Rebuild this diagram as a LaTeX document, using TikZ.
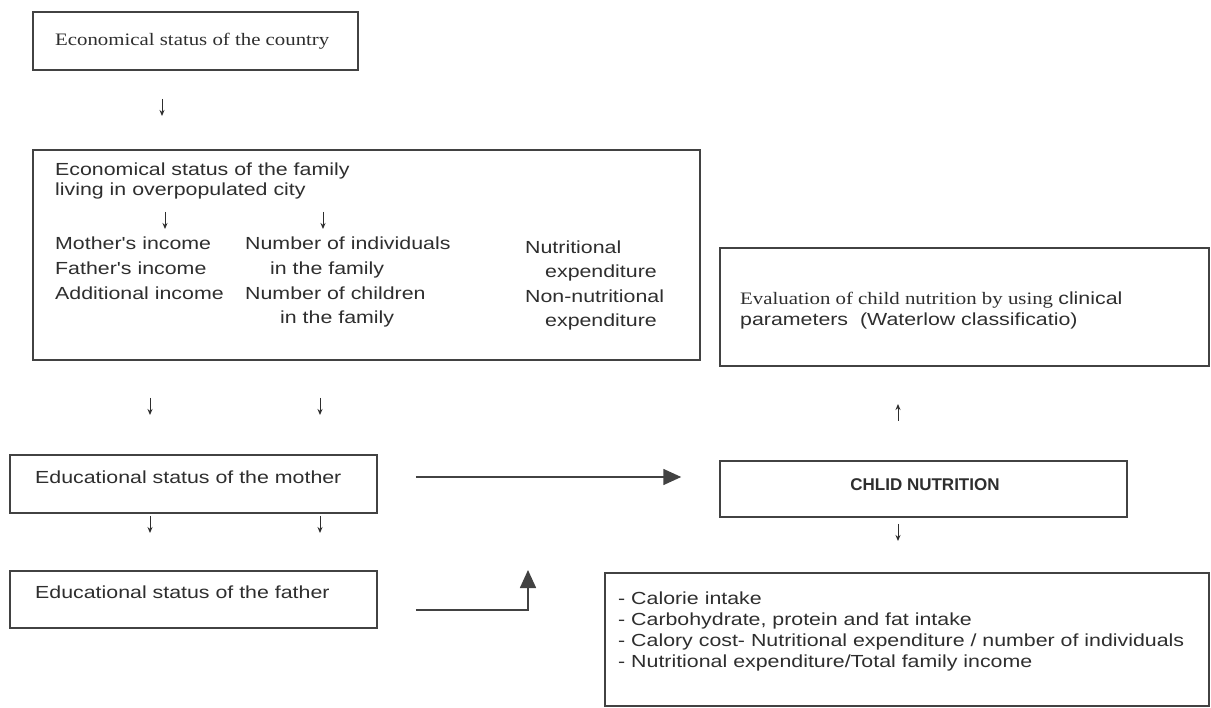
\documentclass[tikz,border=0pt]{standalone}
\usepackage{fontspec}
\setmainfont{Liberation Sans}
\newfontfamily\arialx[FakeStretch=1.22]{Liberation Sans}
\newfontfamily\timesx[FakeStretch=1.19]{Liberation Serif}
\newfontfamily\arialb{Liberation Sans Bold}
\usetikzlibrary{arrows.meta}
\definecolor{ink}{HTML}{2E2E2E}
\definecolor{edge}{HTML}{424242}
\begin{document}
\begin{tikzpicture}[x=1pt,y=-1pt,
  box/.style 2 args={draw=edge,line width=1.5pt,inner sep=0pt,minimum width=#1,minimum height=#2},
  txt/.style={anchor=base west,inner sep=0pt,text=ink,font=\arialx\fontsize{17.5}{21}\selectfont},
  sertxt/.style={txt,font=\timesx\fontsize{17.5}{21}\selectfont},
  sarrow/.style={draw=ink,line width=1pt,-{Stealth[length=6pt,width=5pt]}},
  bigarrow/.style={draw=edge,line width=1.6pt,-{Triangle[length=18pt,width=16pt]}}]
\useasboundingbox (0,0) rectangle (1211,708);
\fill[white] (0,0) rectangle (1211,708);

% boxes
\node[box={325}{58}] (country) at (195.5,41) {};
\node[box={667}{210}] (family) at (366.5,255) {};
\node[box={489}{118}] (eval) at (964.5,307) {};
\node[box={367}{58}] (mother) at (193.5,484) {};
\node[box={407}{56}] (child) at (923.5,489) {};
\node[box={367}{57}] (father) at (193.5,599.5) {};
\node[box={604}{133}] (outcome) at (907,639.5) {};

% texts
\node[sertxt] (tcountry) at (55,46) {Economical status of the country};

\node[txt] (tf1) at (55,176) {Economical status of the family};
\node[txt] (tf2) at (55,196) {living in overpopulated city};
\node[txt] (tm1) at (55,250) {Mother's income};
\node[txt] (tm2) at (55,275) {Father's income};
\node[txt] (tm3) at (55,300) {Additional income};
\node[txt] (tn1) at (245,250) {Number of individuals};
\node[txt] (tn2) at (270,275) {in the family};
\node[txt] (tn3) at (245,300) {Number of children};
\node[txt] (tn4) at (280,324) {in the family};
\node[txt] (te1) at (525,254) {Nutritional};
\node[txt] (te2) at (545,278) {expenditure};
\node[txt] (te3) at (525,303) {Non-nutritional};
\node[txt] (te4) at (545,327) {expenditure};

\node[sertxt] (tev1) at (740,305) {Evaluation of child nutrition by using {\arialx clinical}};
\node[txt] (tev2) at (740,326) {parameters\ \ (Waterlow classificatio)};

\node[txt] (tmother) at (35,484) {Educational status of the mother};
\node[txt] (tfather) at (35,598) {Educational status of the father};

\node[inner sep=0pt,text=ink,font=\arialb\fontsize{17}{20}\selectfont] (tchild) at (925,485) {CHLID NUTRITION};

\node[txt] (to1) at (618,604) {- Calorie intake};
\node[txt] (to2) at (618,625) {- Carbohydrate, protein and fat intake};
\node[txt] (to3) at (618,646) {- Calory cost- Nutritional expenditure / number of individuals};
\node[txt] (to4) at (618,667) {- Nutritional expenditure/Total family income};

% small arrows
\coordinate (s1a) at (162,99);  \coordinate (s1b) at (162,116);
\coordinate (s2a) at (165,212); \coordinate (s2b) at (165,229);
\coordinate (s3a) at (323,212); \coordinate (s3b) at (323,229);
\coordinate (s4a) at (150,398); \coordinate (s4b) at (150,415);
\coordinate (s5a) at (320,398); \coordinate (s5b) at (320,415);
\coordinate (s6a) at (150,516); \coordinate (s6b) at (150,533);
\coordinate (s7a) at (320,516); \coordinate (s7b) at (320,533);
\coordinate (s8a) at (898,421); \coordinate (s8b) at (898,404);
\coordinate (s9a) at (898,524); \coordinate (s9b) at (898,541);
\foreach \i in {1,...,9} {\draw[sarrow] (s\i a) -- (s\i b);}

% big arrows
\coordinate (m1) at ([xshift=38pt,yshift=7pt]mother.east);
\coordinate (m2) at ([xshift=-38pt,yshift=12pt]child.west);
\draw[bigarrow] (m1) -- (m1 -| m2);
\coordinate (f1) at ([xshift=38pt,yshift=-10.5pt]father.east);
\coordinate (f2) at (528,570);
\draw[bigarrow] (f1) -| (f2);
\end{tikzpicture}
\end{document}
